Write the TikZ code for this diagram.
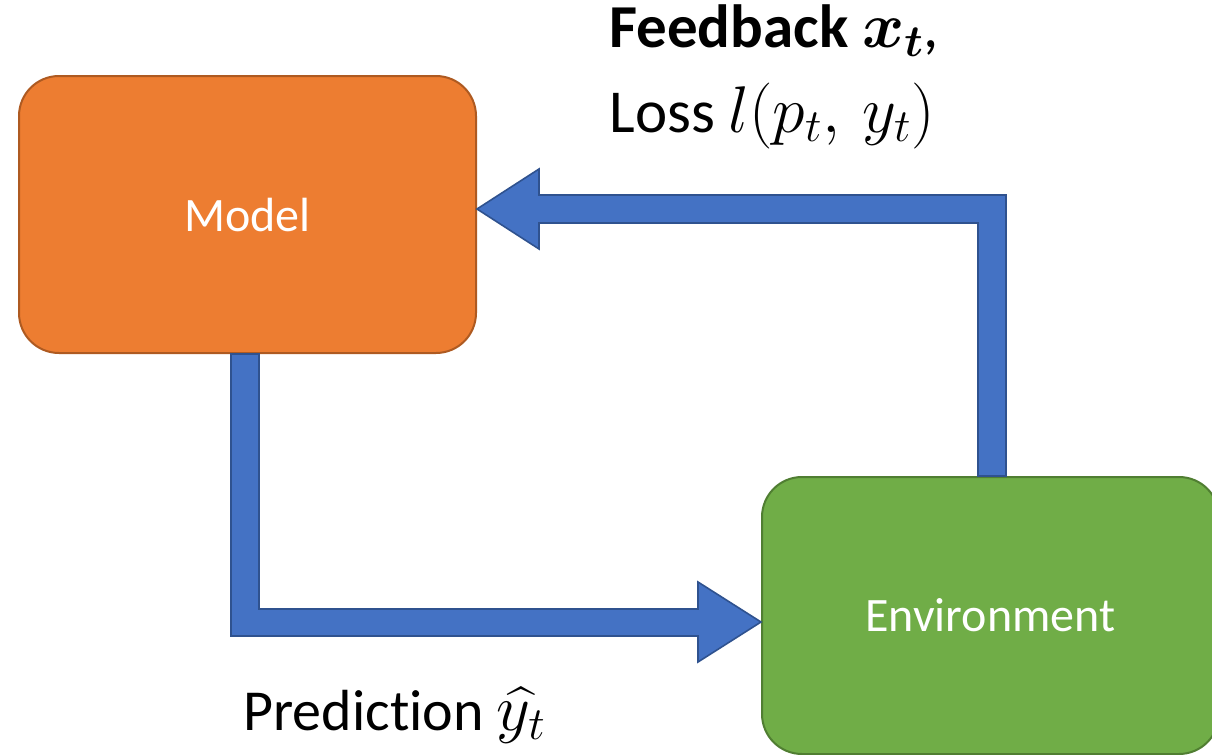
\RequirePackage{fix-cm}
\documentclass[tikz,border=0pt]{standalone}
\usepackage{amsmath}
\usepackage{fontspec}
\setmainfont{Carlito}[Ligatures=NoCommon]
\definecolor{modelfill}{HTML}{ED7D31}
\definecolor{modeldraw}{HTML}{AE5A21}
\definecolor{envfill}{HTML}{70AD47}
\definecolor{envdraw}{HTML}{507E32}
\definecolor{flowfill}{HTML}{4472C4}
\definecolor{flowdraw}{HTML}{2F528F}
\tikzset{
  block/.style={rectangle, rounded corners=20pt, line width=1pt,
    minimum width=228.5pt, minimum height=138.5pt, inner sep=0pt,
    text=white, font=\fontsize{24}{29}\selectfont},
  flow/.style={fill=flowfill, draw=flowdraw, line width=0.8pt, line join=miter},
  lbl/.style={inner sep=0pt, text=black, font=\fontsize{30.5}{36}\selectfont},
  lblsmall/.style={inner sep=0pt, text=black, font=\fontsize{29}{35}\selectfont},
}
% larger math inside the labels
\newcommand{\mathbigger}[2]{{\fontsize{#1}{#1}\selectfont$#2$}}
\begin{document}
\begin{tikzpicture}[x=0.5pt, y=-0.5pt]
\useasboundingbox (0,0) rectangle (1212,755);

% the two blocks
\node[block, fill=modelfill, draw=modeldraw] (model) at (247.5,214.5) {Model};
\begin{scope}
  \clip (0,0) rectangle (1212,755);
  \node[block, fill=envfill, draw=envdraw] (env) at (990.5,615.5) {Environment};
\end{scope}

% prediction: model -> environment
\coordinate (predA) at (model.south -| 231,0);
\coordinate (predB) at (model.south -| 259,0);
\coordinate (predTip) at (env.west |- 0,622);
\filldraw[flow] (predA) -- (231,636) -- (698,636) -- (698,662) -- (predTip)
  -- (698,582) -- (698,609) -- (259,609) -- (predB) -- cycle;

% feedback: environment -> model
\coordinate (fbA) at (env.north -| 1006,0);
\coordinate (fbB) at (env.north -| 978,0);
\coordinate (fbTip) at (model.east |- 0,209);
\filldraw[flow] (fbA) -- (1006,195) -- (539,195) -- (539,169) -- (fbTip)
  -- (539,249) -- (539,223) -- (978,223) -- (fbB) -- cycle;

% labels
\node[lbl, anchor=base west] (fb) at (609,47)
  {\textbf{Feedback} \mathbigger{32}{\boldsymbol{x_t}},};
\node[lbl, anchor=base west] (loss) at (609,132)
  {Loss \mathbigger{33}{l(p_t,\,y_t)}};
\node[lblsmall, anchor=base west] (pred) at (243,730)
  {Prediction \mathbigger{33}{\widehat{y_t}}};
\end{tikzpicture}
\end{document}
